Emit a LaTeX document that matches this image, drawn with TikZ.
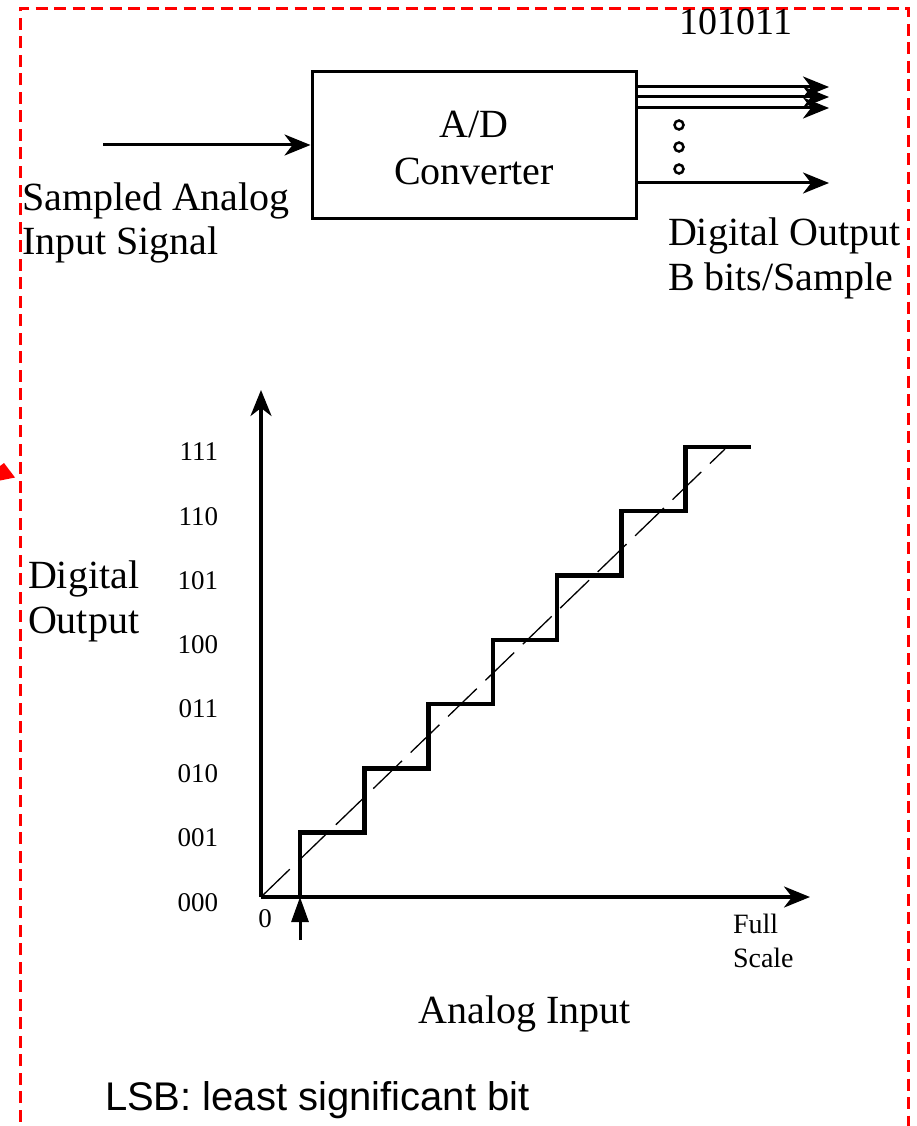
\documentclass[tikz,border=0pt]{standalone}
\usepackage{fontspec}
\setmainfont{Liberation Serif}
\newfontfamily\lsans{Liberation Sans}
\usetikzlibrary{arrows.meta}
\newcommand\fbig{\fontsize{40}{47}\selectfont}
\newcommand\fcode{\fontsize{38}{44}\selectfont}
\newcommand\ftick{\fontsize{27}{32}\selectfont}
\newcommand\ffs{\fontsize{28}{34}\selectfont}
\newcommand\fsans{\lsans\fontsize{40}{47}\selectfont}
\begin{document}
\begin{tikzpicture}[x=1pt,y=-1pt,
  txt/.style={inner sep=0pt, outer sep=0pt},
  big/.style={txt, font=\fbig},
  tick/.style={txt, font=\ftick, anchor=base east},
  arr/.style={line width=3pt, -{Stealth[length=26pt,width=21pt,inset=8pt]}},
  axis/.style={line width=3.2pt, -{Stealth[length=26pt,width=21pt,inset=8pt]}},
  frame/.style={draw=red, line width=3pt, dash pattern=on 12pt off 6.5pt},
  stair/.style={line width=4.5pt, line join=miter},
  diag/.style={line width=1.3pt, dash pattern=on 40pt off 12pt},
  dotc/.style={line width=2.5pt, draw=black}
]
\useasboundingbox (0,0) rectangle (917,1126);

% red frame
\draw[frame] (20,1140) -- (20,8.5) -- (908,8.5) -- (908,1140);
\fill[red] (0,466) -- (4,463) -- (15,477.5) -- (0,480.5) -- cycle;

% top label
\node[txt, font=\fcode, anchor=base] (code) at (736,35) {101011};

% A/D converter box
\node[draw, line width=3pt, minimum width=324pt, minimum height=146pt, inner sep=0pt] (adc) at (474,145) {};
\node[big, anchor=base] (adl1) at (474,138) {A/D};
\node[big, anchor=base] (adl2) at (474,185) {Converter};

% input
\coordinate (inp) at (103,145);
\draw[arr] (inp) -- (adc.west);
\node[big, anchor=base west] (in1) at (22,210) {Sampled Analog};
\node[big, anchor=base west] (in2) at (22,254) {Input Signal};

% outputs
\coordinate (s1) at (636,87);  \coordinate (t1) at (829,87);
\coordinate (s2) at (636,97);  \coordinate (t2) at (829,97);
\coordinate (s3) at (636,108); \coordinate (t3) at (829,108);
\coordinate (s4) at (636,183); \coordinate (t4) at (829,183);
\draw[arr] (s1) -- (t1);
\draw[arr] (s2) -- (t2);
\draw[arr] (s3) -- (t3);
\draw[arr] (s4) -- (t4);
\draw[dotc] (679,125) circle (4.5pt);
\draw[dotc] (679,147) circle (4.5pt);
\draw[dotc] (679,169) circle (4.5pt);
\node[big, anchor=base west] (out1) at (668,245) {Digital Output};
\node[big, anchor=base west] (out2) at (668,290) {B bits/Sample};

% graph axes
\coordinate (O) at (261,897);
\coordinate (ytop) at (261,390);
\coordinate (xend) at (810,897);
\draw[axis] (O) -- (ytop);
\draw[axis] (O) -- (xend);

% staircase
\draw[stair] (300,897) -- (300,832.7) -- (364.3,832.7) -- (364.3,768.4) -- (428.6,768.4)
  -- (428.6,704.1) -- (492.9,704.1) -- (492.9,639.8) -- (557.1,639.8) -- (557.1,575.5)
  -- (621.4,575.5) -- (621.4,511.2) -- (685.7,511.2) -- (685.7,446.9) -- (751,446.9);

% dashed ideal line
\coordinate (dend) at (725,449);
\draw[diag] (O) -- (dend);

% LSB arrow
\coordinate (lsbs) at (300,940);
\coordinate (lsbt) at (300,897);
\draw[line width=3pt, -{Triangle[length=25pt,width=17pt]}] (lsbs) -- (lsbt);

% tick labels
\node[tick] (l7) at (218,460) {111};
\node[tick] (l6) at (218,525) {110};
\node[tick] (l5) at (218,589) {101};
\node[tick] (l4) at (218,653) {100};
\node[tick] (l3) at (218,717) {011};
\node[tick] (l2) at (218,782) {010};
\node[tick] (l1) at (218,846) {001};
\node[tick] (l0) at (218,911) {000};
\node[txt, font=\ftick, anchor=base] (zero) at (265,927) {0};
\node[txt, font=\ffs, anchor=base west] (fs1) at (733,933) {Full};
\node[txt, font=\ffs, anchor=base west] (fs2) at (733,967) {Scale};

% axis titles
\node[big, anchor=base west] (do1) at (28,588) {Digital};
\node[big, anchor=base west] (do2) at (28,633) {Output};
\node[big, anchor=base] (ai) at (525,1023) {Analog Input};

% note
\node[txt, font=\fsans, anchor=base west] (lsb) at (105,1110) {LSB: least significant bit};
\end{tikzpicture}
\end{document}
